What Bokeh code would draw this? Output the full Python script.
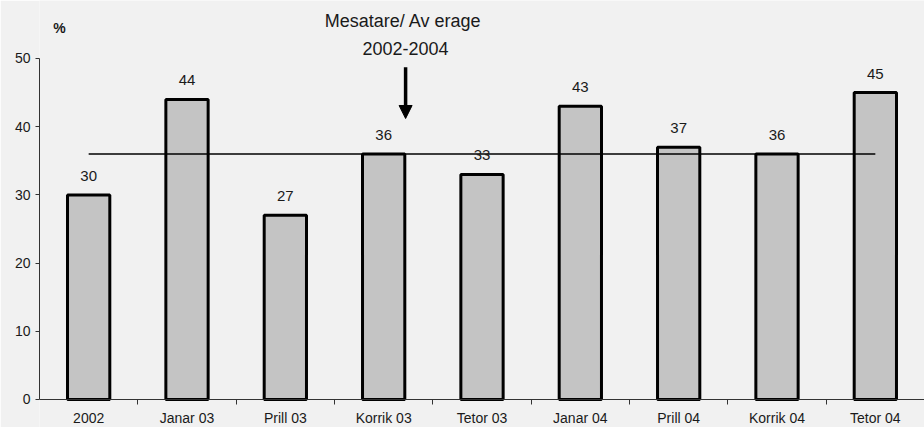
from bokeh.plotting import figure
from bokeh.models import Range1d, FixedTicker, ColumnDataSource, Arrow, NormalHead
from bokeh.core.properties import value
from bokeh.embed import file_html
from bokeh.resources import INLINE

categories = ["2002", "Janar 03", "Prill 03", "Korrik 03", "Tetor 03",
              "Janar 04", "Prill 04", "Korrik 04", "Tetor 04"]
values = [30, 44, 27, 36, 33, 43, 37, 36, 45]
average = 36
y_ticks = [0, 10, 20, 30, 40, 50]
note_line1 = "Mesatare/  Av erage"
note_line2 = "2002-2004"
unit_label = "%"

FONT = "Liberation Sans"
BG = "#f1f1f1"
TXT = "#1a1a1a"

xs = [i + 0.5 for i in range(len(categories))]
src = ColumnDataSource(dict(x=xs, top=values, label=[str(v) for v in values]))

p = figure(width=924, height=427, output_backend="svg", toolbar_location=None,
           x_range=Range1d(0, 9), y_range=Range1d(-4.106, 58.5),
           min_border_left=39, min_border_right=0, min_border_top=0, min_border_bottom=0)
p.background_fill_color = BG
p.border_fill_color = BG
p.outline_line_color = None
p.xgrid.visible = False
p.ygrid.visible = False

# bars
p.vbar(x="x", top="top", width=0.43, bottom=0, source=src,
       fill_color="#c4c4c4", line_color="black", line_width=3)

# average line
p.line(x=[xs[0], xs[-1]], y=[average, average], line_color="black", line_width=1.5)

# value labels
p.text(x="x", y="top", text="label", source=src, text_align="center",
       text_baseline="alphabetic", y_offset=-19, text_font=value(FONT),
       text_font_size="15px", text_color=TXT)

# annotation
ax = 3.723
p.text(x=[ax], y=[55.43], text=[note_line1], text_align="center", text_baseline="middle",
       text_font=value(FONT), text_font_size="18px", text_color=TXT)
p.text(x=[ax], y=[51.47], text=[note_line2], text_align="center", text_baseline="middle",
       text_font=value(FONT), text_font_size="18px", text_color=TXT)
p.add_layout(Arrow(end=NormalHead(size=13, fill_color="black", line_color="black"),
                   x_start=ax, y_start=48.7, x_end=ax, y_end=41.2,
                   line_width=3.5, line_color="black"))
p.text(x=[0.203], y=[54.4], text=[unit_label], text_align="center", text_baseline="middle",
       text_font=value(FONT), text_font_size="14px", text_font_style="bold",
       text_color=TXT)

# x axis, drawn at y = 0
xa = p.xaxis[0]
xa.fixed_location = 0
xa.ticker = FixedTicker(ticks=xs, minor_ticks=list(range(1, len(categories))))
xa.major_label_overrides = {x: c for x, c in zip(xs, categories)}
xa.major_tick_out = 0
xa.major_tick_in = 0
xa.minor_tick_out = 5
xa.minor_tick_in = 0
xa.minor_tick_line_color = "#333333"
xa.axis_line_color = "#333333"
xa.major_label_standoff = 6
xa.major_label_text_font = FONT
xa.major_label_text_font_size = "14px"
xa.major_label_text_color = TXT

# y axis
ya = p.yaxis[0]
ya.ticker = FixedTicker(ticks=y_ticks, minor_ticks=[])
ya.bounds = (0, 50)
ya.major_tick_out = 4
ya.major_tick_in = 0
ya.axis_line_color = "#333333"
ya.major_tick_line_color = "#333333"
ya.major_label_standoff = 5
ya.major_label_text_font = FONT
ya.major_label_text_font_size = "14px"
ya.major_label_text_color = TXT

html = file_html(p, INLINE)
html = html.replace("<body>", '<body style="background:%s">' % BG, 1)
open("out.html", "w").write(html)
